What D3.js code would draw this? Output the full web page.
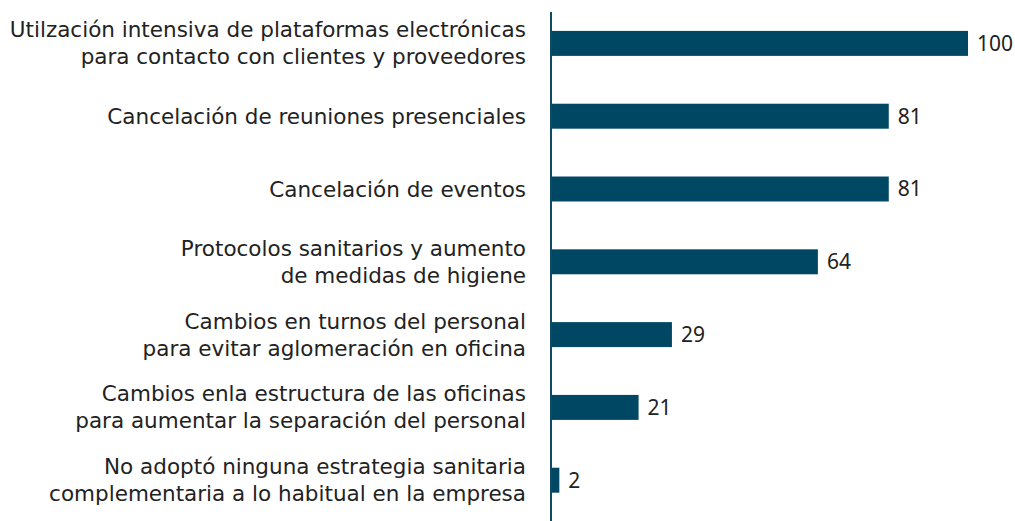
<!DOCTYPE html>
<html><head><meta charset="utf-8">
<script src="https://cdn.jsdelivr.net/npm/d3@7"></script>
<style>body{margin:0;background:#fff;} text{font-family:"DejaVu Sans",sans-serif;} text.val{font-family:"Noto Sans",sans-serif;}</style>
</head><body>
<svg id="c" width="1015" height="521"></svg>
<script>
const categories = [
  ["Utilzación intensiva de plataformas electrónicas","para contacto con clientes y proveedores"],
  ["Cancelación de reuniones presenciales"],
  ["Cancelación de eventos"],
  ["Protocolos sanitarios y aumento","de medidas de higiene"],
  ["Cambios en turnos del personal","para evitar aglomeración en oficina"],
  ["Cambios enla estructura de las oficinas","para aumentar la separación del personal"],
  ["No adoptó ninguna estrategia sanitaria","complementaria a lo habitual en la empresa"]
];
const values = [100, 81, 81, 64, 29, 21, 2];

const svg = d3.select("#c");
const keys = categories.map((c,i)=>i);
const x = d3.scaleLinear().domain([0,100]).range([551,968]);
const y = d3.scaleBand().domain(keys).range([7,516.6]).paddingInner(0.657).paddingOuter(0.3285);
const color = "#004763";

// fit font size so the label width matches the reference layout
const probe = svg.append("text").attr("font-size",20).text(categories[1][0]);
const w = probe.node().getComputedTextLength();
probe.remove();
const fs = Math.min(22, Math.max(16, 20*419/w));

svg.append("g").selectAll("rect").data(values).join("rect")
  .attr("x", x(0)).attr("y",(d,i)=>y(i)).attr("width",d=>x(d)-x(0)).attr("height",y.bandwidth())
  .attr("fill",color);

svg.append("line").attr("x1",x(0)).attr("x2",x(0)).attr("y1",12).attr("y2",521)
  .attr("stroke","#0d4a63").attr("stroke-width",2);

svg.append("g").selectAll("text").data(values).join("text").attr("class","val")
  .attr("x",d=>x(d)+9).attr("y",(d,i)=>y(i)+y.bandwidth()/2).attr("dy","0.35em")
  .attr("font-size",21).attr("fill","#222").text(d=>d);

const lh = 27;
const lab = svg.append("g").selectAll("text").data(categories).join("text")
  .attr("text-anchor","end").attr("font-size",fs).attr("fill","#222");
lab.each(function(lines,i){
  const c = y(i)+y.bandwidth()/2;
  const n = lines.length;
  d3.select(this).selectAll("tspan").data(lines).join("tspan")
    .attr("x",526).attr("y",(l,j)=>c+(j-(n-1)/2)*lh).attr("dy","0.35em").text(l=>l);
});
</script>
</body></html>
